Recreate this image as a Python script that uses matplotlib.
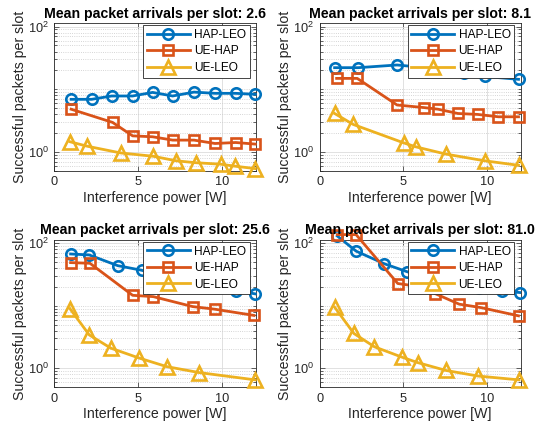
import matplotlib
matplotlib.use("Agg")
import matplotlib.pyplot as plt
from matplotlib.ticker import FixedLocator, LogFormatterSciNotation, NullFormatter

plt.rcParams['font.family'] = ['Liberation Sans', 'DejaVu Sans']
plt.rcParams['mathtext.fontset'] = 'custom'
plt.rcParams['mathtext.rm'] = 'Liberation Sans'

# ---------------- data ----------------
titles = ["Mean packet arrivals per slot: 2.6", "Mean packet arrivals per slot: 8.1",
          "Mean packet arrivals per slot: 25.6", "Mean packet arrivals per slot: 81.0"]
series_names = ["HAP-LEO", "UE-HAP", "UE-LEO"]

# panel 1 (2.6)
p1_hap_leo_x = [1.0, 2.22, 3.41, 4.66, 5.85, 7.04, 8.31, 9.56, 10.79, 11.96]
p1_hap_leo_y = [6.9, 6.9, 7.8, 7.8, 8.9, 7.8, 9.0, 8.6, 8.6, 8.3]
p1_ue_hap_x = [1.0, 3.47, 4.66, 5.85, 7.04, 8.31, 9.56, 10.79, 11.96]
p1_ue_hap_y = [4.8, 2.95, 1.80, 1.74, 1.54, 1.54, 1.36, 1.41, 1.33]
p1_ue_leo_x = [0.93, 1.96, 3.95, 5.89, 7.24, 8.43, 9.9, 10.75, 11.96]
p1_ue_leo_y = [1.45, 1.23, 0.96, 0.85, 0.72, 0.67, 0.635, 0.59, 0.54]

# panel 2 (8.1)
p2_hap_leo_x = [0.89, 2.30, 4.62, 6.0, 7.3, 8.6, 9.84, 11.87]
p2_hap_leo_y = [22.1, 22.1, 24.4, 22.5, 20.5, 18.5, 16.0, 14.4]
p2_ue_hap_x = [1.01, 2.24, 4.62, 6.21, 7.06, 8.25, 9.44, 10.67, 11.87]
p2_ue_hap_y = [14.9, 14.9, 5.6, 5.1, 4.8, 4.1, 3.96, 3.63, 3.63]
p2_ue_leo_x = [0.89, 2.0, 5.02, 5.75, 7.54, 9.84, 11.87]
p2_ue_leo_y = [4.1, 2.74, 1.39, 1.20, 0.92, 0.72, 0.61]

# panel 3 (25.6)
p3_hap_leo_x = [0.97, 2.08, 3.77, 5.2, 6.5, 8.0, 9.5, 10.8, 11.96]
p3_hap_leo_y = [67.5, 65.1, 43.9, 37.0, 30.0, 24.0, 20.0, 17.5, 15.5]
p3_ue_hap_x = [0.97, 2.12, 4.66, 5.89, 8.23, 9.56, 11.88]
p3_ue_hap_y = [49.1, 47.9, 14.7, 14.0, 9.7, 8.8, 7.0]
p3_ue_leo_x = [0.93, 2.08, 3.37, 5.06, 6.69, 8.63, 11.96]
p3_ue_leo_y = [9.0, 3.41, 2.09, 1.45, 1.06, 0.85, 0.65]

# panel 4 (81.0)
p4_hap_leo_x = [1.05, 2.17, 3.86, 5.23, 6.5, 8.0, 9.5, 10.9, 11.94]
p4_hap_leo_y = [131, 75, 47, 35, 28, 23, 19.5, 17.1, 16.3]
p4_ue_hap_x = [1.05, 2.17, 4.66, 5.85, 6.88, 8.33, 9.62, 11.87]
p4_ue_hap_y = [138, 138, 22.7, 20.5, 15.7, 10.6, 9.35, 6.9]
p4_ue_leo_x = [0.89, 2.04, 3.27, 4.92, 5.85, 7.54, 9.44, 11.9]
p4_ue_leo_y = [9.5, 3.6, 2.2, 1.5, 1.23, 0.92, 0.75, 0.65]

x_ticks = [0, 5, 10]
y_ticks = [1, 100]

panels = [
    [(p1_hap_leo_x, p1_hap_leo_y), (p1_ue_hap_x, p1_ue_hap_y), (p1_ue_leo_x, p1_ue_leo_y)],
    [(p2_hap_leo_x, p2_hap_leo_y), (p2_ue_hap_x, p2_ue_hap_y), (p2_ue_leo_x, p2_ue_leo_y)],
    [(p3_hap_leo_x, p3_hap_leo_y), (p3_ue_hap_x, p3_ue_hap_y), (p3_ue_leo_x, p3_ue_leo_y)],
    [(p4_hap_leo_x, p4_hap_leo_y), (p4_ue_hap_x, p4_ue_hap_y), (p4_ue_leo_x, p4_ue_leo_y)],
]

# ---------------- style ----------------
colors = ["#0072BD", "#D95319", "#EDB120"]
markers = ["o", "s", "^"]
msizes = [7.5, 6.5, 9.5]
axcol = "#262626"

W, H = 548, 430
fig = plt.figure(figsize=(W / 100, H / 100), dpi=100)

# axes boxes in pixels: left, top, right, bottom
boxes = [(54.3, 23.3, 256.0, 170.7), (319.7, 23.3, 520.7, 170.7),
         (54.3, 240.0, 256.0, 387.0), (319.7, 240.0, 520.7, 387.0)]

minor_locs = []
for dec in [0.1, 1, 10, 100]:
    for m in range(2, 10):
        minor_locs.append(m * dec)
minor_locs.append(10)

for i, (l, t, r, b) in enumerate(boxes):
    ax = fig.add_axes([l / W, 1 - b / H, (r - l) / W, (b - t) / H])
    for j, (xs, ys) in enumerate(panels[i]):
        ax.plot(xs, ys, color=colors[j], marker=markers[j], markersize=msizes[j],
                markerfacecolor='none', markeredgewidth=1.9, linewidth=2.0,
                label=series_names[j], clip_on=False, zorder=3)
    ax.set_yscale('log')
    ax.set_xlim(0, 12)
    ax.set_ylim(0.5, 113)
    ax.xaxis.set_major_locator(FixedLocator(x_ticks))
    ax.yaxis.set_major_locator(FixedLocator(y_ticks))
    ax.yaxis.set_major_formatter(LogFormatterSciNotation())
    ax.yaxis.set_minor_locator(FixedLocator(minor_locs))
    ax.yaxis.set_minor_formatter(NullFormatter())
    ax.grid(True, which='major', color='#dcdcdc', linewidth=0.6, linestyle='-', zorder=0)
    ax.grid(True, which='minor', axis='y', color='#c8c8c8', linewidth=0.6, linestyle=':', zorder=0)
    ax.set_axisbelow(True)
    ax.tick_params(which='both', direction='in', top=True, right=True,
                   colors=axcol, labelsize=9.2, width=0.5)
    ax.tick_params(which='major', length=3.5, pad=4)
    ax.tick_params(which='minor', length=2)
    for s in ax.spines.values():
        s.set_color(axcol)
        s.set_linewidth(0.6)
    ax.set_title(titles[i], fontsize=10.2, fontweight='bold', pad=4, color='black')
    ax.set_xlabel("Interference power [W]", fontsize=10.2, color=axcol, labelpad=2)
    ax.set_ylabel("Successful packets per slot", fontsize=10.2, color=axcol, labelpad=0.5)
    aw, ah = r - l, b - t
    leg = ax.legend(loc='upper right', bbox_to_anchor=(1 - 6.5 / aw, 1 - 2.0 / ah),
                    borderaxespad=0, fontsize=8.6, handlelength=3.6, handletextpad=0.35,
                    labelspacing=0.38, borderpad=0.3, fancybox=False, framealpha=1,
                    edgecolor=axcol)
    leg.get_frame().set_linewidth(0.6)
    leg.set_zorder(5)

fig.savefig("out.png", dpi=100)
